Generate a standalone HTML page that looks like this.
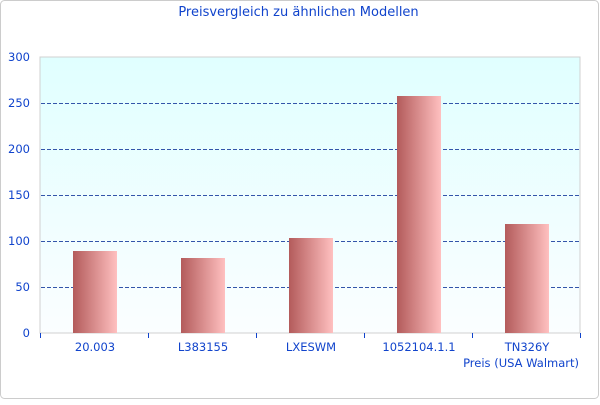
<!DOCTYPE html>
<html><head><style>
html,body{margin:0;padding:0;background:#fff}
</style></head><body>
<svg width="600" height="400" xmlns="http://www.w3.org/2000/svg" font-family="DejaVu Sans, sans-serif">
<defs>
<linearGradient id="bg" x1="0" y1="0" x2="0" y2="1"><stop offset="0" stop-color="#e0ffff"/><stop offset="1" stop-color="#fbfeff"/></linearGradient>
<linearGradient id="bar" x1="0" y1="0" x2="1" y2="0"><stop offset="0" stop-color="#b35b5b"/><stop offset="1" stop-color="#ffc0c0"/></linearGradient>
</defs>
<rect x="0.5" y="0.5" width="598" height="398" rx="4" fill="#fff" stroke="#cccccc"/>
<text x="298.5" y="16" text-anchor="middle" font-size="13" fill="#1144cc">Preisvergleich zu ähnlichen Modellen</text>
<rect x="40" y="57" width="540" height="276" fill="url(#bg)" stroke="#d0d0d0"/>
<g stroke="#3355aa" stroke-dasharray="4,2" stroke-width="1">
<line x1="41" y1="103.5" x2="579" y2="103.5"/>
<line x1="41" y1="149.5" x2="579" y2="149.5"/>
<line x1="41" y1="195.5" x2="579" y2="195.5"/>
<line x1="41" y1="241.5" x2="579" y2="241.5"/>
<line x1="41" y1="287.5" x2="579" y2="287.5"/>
</g>
<g fill="url(#bar)">
<rect x="73" y="251" width="44" height="82"/>
<rect x="181" y="258" width="44" height="75"/>
<rect x="289" y="238" width="44" height="95"/>
<rect x="397" y="96" width="44" height="237"/>
<rect x="505" y="224" width="44" height="109"/>
</g>
<g stroke="#1144cc">
<line x1="40.5" y1="333" x2="40.5" y2="338"/><line x1="148.5" y1="333" x2="148.5" y2="338"/>
<line x1="256.5" y1="333" x2="256.5" y2="338"/><line x1="364.5" y1="333" x2="364.5" y2="338"/>
<line x1="472.5" y1="333" x2="472.5" y2="338"/><line x1="580.5" y1="333" x2="580.5" y2="338"/>
</g>
<g font-size="11.5" fill="#1144cc" text-anchor="end">
<text x="30" y="61">300</text><text x="30" y="107">250</text><text x="30" y="153">200</text>
<text x="30" y="199">150</text><text x="30" y="245">100</text><text x="30" y="291">50</text><text x="30" y="337">0</text>
</g>
<g font-size="11.5" fill="#1144cc" text-anchor="middle">
<text x="95" y="351">20.003</text><text x="203" y="351">L383155</text><text x="311" y="351">LXESWM</text>
<text x="419" y="351">1052104.1.1</text><text x="527" y="351">TN326Y</text>
</g>
<text x="579" y="367" font-size="11.5" fill="#1144cc" text-anchor="end">Preis (USA Walmart)</text>
</svg>
</body></html>
